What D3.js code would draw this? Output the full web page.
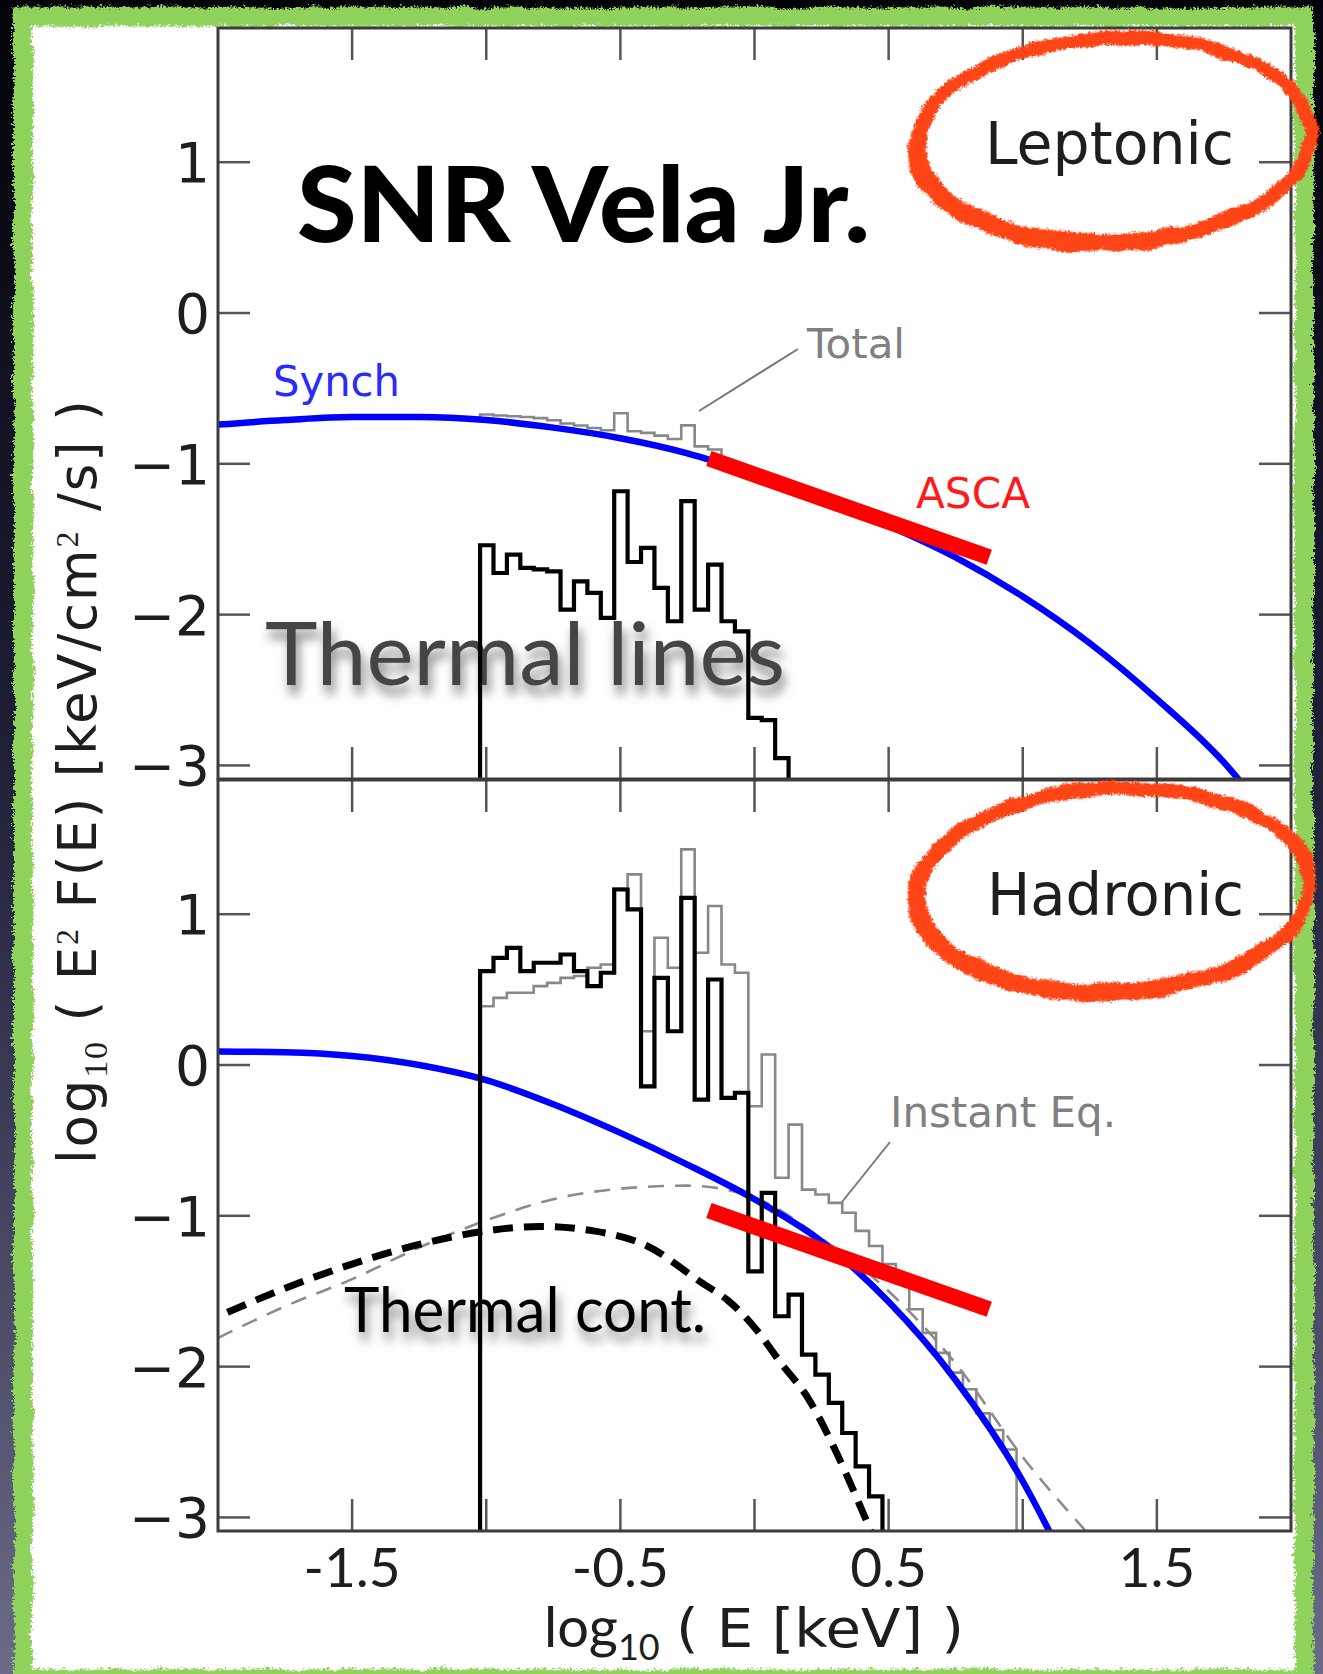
<!DOCTYPE html>
<html>
<head>
<meta charset="utf-8">
<script src="https://cdn.jsdelivr.net/npm/d3@7"></script>
<style>
  html, body { margin: 0; padding: 0; background: #000; }
  svg { display: block; }
</style>
</head>
<body>
<svg id="chart" width="1323" height="1674"></svg>
<script>
// ---------------- data ----------------
const xTickValues = [-1.5, -1.0, -0.5, 0.0, 0.5, 1.0, 1.5];
const xLabelValues = [-1.5, -0.5, 0.5, 1.5];
const xLabelTexts = ["-1.5", "-0.5", "0.5", "1.5"];
const yTickValues = [-3, -2, -1, 0, 1];
const yTickTexts = ["\u22123", "\u22122", "\u22121", "0", "1"];

// histogram binning in log10(E/keV)
const binStart = -1.023;
const binWidth = 0.05;

// Leptonic panel
const lepSynchX = [-2.0, -1.75, -1.5, -1.25, -1.0, -0.75, -0.5, -0.25, 0.0, 0.25, 0.5, 0.75, 1.0, 1.25, 1.5, 1.75, 1.85];
const lepSynchY = [-0.74, -0.71, -0.69, -0.69, -0.71, -0.76, -0.83, -0.93, -1.07, -1.23, -1.41, -1.62, -1.88, -2.19, -2.56, -2.98, -3.19];
const lepLines = [-1.540, -1.724, -1.602, -1.690, -1.700, -1.713, -1.967, -1.779, -1.856, -2.022, -1.182, -1.651,
                  -1.558, -1.823, -2.044, -1.248, -1.967, -1.668, -2.044, -2.111, -2.685, -2.700, -2.951];
const lepTotal = [-0.673, -0.680, -0.685, -0.690, -0.697, -0.711, -0.733, -0.746, -0.762, -0.777, -0.665, -0.784,
                  -0.795, -0.813, -0.835, -0.745, -0.884, -0.905];

// Hadronic panel
const hadSynchX = [-2.0, -1.75, -1.5, -1.25, -1.0, -0.75, -0.5, -0.25, 0.0, 0.25, 0.5, 0.75, 1.0, 1.15];
const hadSynchY = [0.09, 0.085, 0.06, 0.00, -0.10, -0.26, -0.45, -0.66, -0.89, -1.17, -1.57, -2.09, -2.76, -3.27];
const thermContX = [-1.965, -1.75, -1.5, -1.25, -1.0, -0.8, -0.6, -0.4, -0.2, -0.1, 0.0, 0.1, 0.2, 0.3, 0.4, 0.45];
const thermContY = [-1.64, -1.48, -1.32, -1.19, -1.10, -1.07, -1.10, -1.20, -1.44, -1.56, -1.74, -1.98, -2.21, -2.55, -2.95, -3.16];
const eqContX = [-2.0, -1.75, -1.5, -1.25, -1.0, -0.75, -0.5, -0.25, 0.0, 0.25, 0.5, 0.75, 1.0, 1.25];
const eqContY = [-1.81, -1.60, -1.42, -1.21, -1.03, -0.89, -0.82, -0.80, -0.88, -1.15, -1.50, -1.98, -2.60, -3.12];
const hadLines = [0.622, 0.711, 0.777, 0.622, 0.678, 0.678, 0.733, 0.622, 0.523, 0.612, 1.164, 1.032, -0.141, 0.578,
                  0.224, 1.109, -0.229, 0.567, -0.218, -0.184, -1.368, -0.848, -1.666, -1.522, -1.920, -2.053,
                  -2.241, -2.440, -2.661, -2.860];
const hadInstEq = [0.390, 0.445, 0.479, 0.479, 0.523, 0.545, 0.578, 0.590, 0.645, 0.667, 1.170, 1.264, 0.224, 0.844,
                   0.645, 1.430, 0.744, 1.054, 0.667, 0.612, -0.273, 0.070, -0.748, -0.395, -0.826, -0.859, -0.914,
                   -0.980, -1.100, -1.200, -1.320, -1.450, -1.620, -1.776, -1.909, -2.040, -2.150, -2.310, -2.420, -2.550];

// ASCA band (same in both panels)
const ascaX = [-0.17, 0.875];
const ascaY = [-0.965, -1.62];

// ---------------- layout ----------------
const svg = d3.select("#chart");
const W = 1323, H = 1674;
const yDomain = [-3.09, 1.89];

const x = d3.scaleLinear().domain([-2, 2]).range([218, 1291]);
const panels = [
  { key: "lep", y: d3.scaleLinear().domain(yDomain).range([779, 28]) },
  { key: "had", y: d3.scaleLinear().domain(yDomain).range([1531, 780]) }
];

const defs = svg.append("defs");

const bg = defs.append("linearGradient").attr("id", "bgGrad")
  .attr("x1", 0).attr("y1", 0).attr("x2", 0).attr("y2", 1);
bg.append("stop").attr("offset", "0").attr("stop-color", "#020208");
bg.append("stop").attr("offset", "0.45").attr("stop-color", "#1f1f38");
bg.append("stop").attr("offset", "1").attr("stop-color", "#6b6a87");

// hand-drawn stroke: slow wobble plus a fine ragged edge
function sketchFilter(id, freq, scale, fineFreq, fineScale, seed) {
  const f = defs.append("filter").attr("id", id)
    .attr("x", "-5%").attr("y", "-5%").attr("width", "110%").attr("height", "110%");
  f.append("feTurbulence").attr("type", "fractalNoise").attr("baseFrequency", freq)
    .attr("numOctaves", 2).attr("seed", seed).attr("result", "noise");
  f.append("feDisplacementMap").attr("in", "SourceGraphic").attr("in2", "noise")
    .attr("scale", scale).attr("xChannelSelector", "R").attr("yChannelSelector", "G").attr("result", "wob");
  f.append("feTurbulence").attr("type", "turbulence").attr("baseFrequency", fineFreq)
    .attr("numOctaves", 2).attr("seed", seed + 5).attr("result", "fine");
  f.append("feDisplacementMap").attr("in", "wob").attr("in2", "fine")
    .attr("scale", fineScale).attr("xChannelSelector", "R").attr("yChannelSelector", "G");
}
sketchFilter("sketchRed", "0.03", 8, "0.35", 6, 4);
sketchFilter("sketchGreen", "0.04", 6, "0.3", 7, 11);

// soft drop shadow under the big annotations
const shadow = defs.append("filter").attr("id", "shadow")
  .attr("x", "-10%").attr("y", "-20%").attr("width", "120%").attr("height", "160%");
shadow.append("feDropShadow").attr("dx", 3).attr("dy", 9).attr("stdDeviation", 5.5)
  .attr("flood-color", "#000").attr("flood-opacity", 0.5);

panels.forEach(p => {
  defs.append("clipPath").attr("id", "clip-" + p.key)
    .append("rect")
    .attr("x", x.range()[0]).attr("y", p.y.range()[1])
    .attr("width", x.range()[1] - x.range()[0])
    .attr("height", p.y.range()[0] - p.y.range()[1]);
});

// ---------------- background & frame ----------------
svg.append("rect").attr("width", W).attr("height", H).attr("fill", "url(#bgGrad)");
svg.append("rect").attr("x", 21).attr("y", 15).attr("width", 1282).attr("height", 1670).attr("fill", "#ffffff");
svg.append("rect").attr("x", 21.5).attr("y", 15).attr("width", 1281).attr("height", 1662)
  .attr("fill", "none").attr("stroke", "#8fd35b").attr("stroke-width", 19)
  .attr("filter", "url(#sketchGreen)");

// ---------------- big annotations (under the curves) ----------------
const gAnn = svg.append("g");
gAnn.append("text").attr("x", 297).attr("y", 242)
  .attr("font-family", "Lato, 'Open Sans', sans-serif").attr("font-weight", 900)
  .attr("font-size", 104).attr("fill", "#000")
  .attr("textLength", 573).attr("lengthAdjust", "spacingAndGlyphs")
  .text("SNR Vela Jr.");

gAnn.append("text").attr("x", 265).attr("y", 685)
  .attr("font-family", "Lato, sans-serif").attr("font-weight", 400)
  .attr("font-size", 88).attr("fill", "#444")
  .attr("textLength", 520).attr("lengthAdjust", "spacingAndGlyphs")
  .attr("filter", "url(#shadow)")
  .text("Thermal lines");

gAnn.append("text").attr("x", 344).attr("y", 1332)
  .attr("font-family", "Lato, sans-serif").attr("font-weight", 400)
  .attr("font-size", 61).attr("fill", "#000")
  .attr("textLength", 362).attr("lengthAdjust", "spacingAndGlyphs")
  .attr("filter", "url(#shadow)")
  .text("Thermal cont.");

// ---------------- plotting helpers ----------------
const curve = (xs, ys, yS) => d3.line()
  .x(d => x(d[0])).y(d => yS(d[1]))
  .curve(d3.curveMonotoneX)(xs.map((v, i) => [v, ys[i]]));

function stepPath(vals, yS, startV, endV) {
  let p = `M${x(binStart)},${yS(startV)}`;
  vals.forEach((v, i) => {
    p += `V${yS(v)}H${x(binStart + (i + 1) * binWidth)}`;
  });
  p += `V${yS(endV)}`;
  return p;
}

const lepSynchAt = d3.scaleLinear().domain(lepSynchX).range(lepSynchY);

panels.forEach(p => {
  const g = svg.append("g").attr("clip-path", `url(#clip-${p.key})`);
  const y = p.y;
  const floor = yDomain[0];

  if (p.key === "lep") {
    g.append("path").attr("d",
        stepPath(lepTotal, y, lepSynchAt(binStart), lepSynchAt(binStart + lepTotal.length * binWidth)))
      .attr("fill", "none").attr("stroke", "#888").attr("stroke-width", 2.6);
    g.append("path").attr("d", curve(lepSynchX, lepSynchY, y))
      .attr("fill", "none").attr("stroke", "#0000ff").attr("stroke-width", 6.5);
    g.append("path").attr("d", stepPath(lepLines, y, floor, floor))
      .attr("fill", "none").attr("stroke", "#000").attr("stroke-width", 4.2);
  } else {
    g.append("path").attr("d", curve(eqContX, eqContY, y))
      .attr("fill", "none").attr("stroke", "#8c8c8c").attr("stroke-width", 2.6)
      .attr("stroke-dasharray", "16,11");
    g.append("path").attr("d", curve(thermContX, thermContY, y))
      .attr("fill", "none").attr("stroke", "#000").attr("stroke-width", 7)
      .attr("stroke-dasharray", "20,11");
    g.append("path").attr("d", stepPath(hadInstEq, y, floor, floor))
      .attr("fill", "none").attr("stroke", "#888").attr("stroke-width", 2.6);
    g.append("path").attr("d", curve(hadSynchX, hadSynchY, y))
      .attr("fill", "none").attr("stroke", "#0000ff").attr("stroke-width", 6.5);
    g.append("path").attr("d", stepPath(hadLines, y, floor, floor))
      .attr("fill", "none").attr("stroke", "#000").attr("stroke-width", 4.2);
  }
  // ASCA band
  g.append("line")
    .attr("x1", x(ascaX[0])).attr("y1", y(ascaY[0]))
    .attr("x2", x(ascaX[1])).attr("y2", y(ascaY[1]))
    .attr("stroke", "#ff0000").attr("stroke-width", 16);
});

// ---------------- axes ----------------
const axisColor = "#3c3c3c", tickColor = "#555", tickLen = 32;
const gAx = svg.append("g");
panels.forEach(p => {
  const y = p.y;
  const [x0, x1] = x.range();
  const [yb, yt] = y.range();
  xTickValues.forEach(v => {
    gAx.append("line").attr("x1", x(v)).attr("x2", x(v)).attr("y1", yt).attr("y2", yt + tickLen)
      .attr("stroke", tickColor).attr("stroke-width", 2.5);
    gAx.append("line").attr("x1", x(v)).attr("x2", x(v)).attr("y1", yb).attr("y2", yb - tickLen)
      .attr("stroke", tickColor).attr("stroke-width", 2.5);
  });
  yTickValues.forEach(v => {
    gAx.append("line").attr("x1", x0).attr("x2", x0 + tickLen).attr("y1", y(v)).attr("y2", y(v))
      .attr("stroke", tickColor).attr("stroke-width", 2.5);
    gAx.append("line").attr("x1", x1).attr("x2", x1 - tickLen).attr("y1", y(v)).attr("y2", y(v))
      .attr("stroke", tickColor).attr("stroke-width", 2.5);
  });
  gAx.append("rect").attr("x", x0).attr("y", yt).attr("width", x1 - x0).attr("height", yb - yt)
    .attr("fill", "none").attr("stroke", axisColor).attr("stroke-width", 3);
  yTickValues.forEach((v, i) => {
    gAx.append("text").attr("x", 210).attr("y", y(v) + 20)
      .attr("text-anchor", "end")
      .attr("font-family", "'DejaVu Sans', sans-serif").attr("font-size", 55)
      .attr("fill", "#1e1e1e").text(yTickTexts[i]);
  });
});

// x tick labels
xLabelValues.forEach((v, i) => {
  gAx.append("text").attr("x", x(v)).attr("y", 1587)
    .attr("text-anchor", "middle")
    .attr("font-family", "Lato, sans-serif").attr("font-size", 55)
    .attr("fill", "#1e1e1e").text(xLabelTexts[i]);
});

// x axis title
const xt = gAx.append("text").attr("x", 544).attr("y", 1647)
  .attr("fill", "#1e1e1e").attr("font-family", "Lato, sans-serif");
xt.append("tspan").attr("font-size", 56).text("log");
xt.append("tspan").attr("font-size", 36).attr("dy", 13).text("10");
gAx.append("text").attr("x", 676).attr("y", 1647)
  .attr("fill", "#1e1e1e").attr("font-family", "'DejaVu Sans', sans-serif").attr("font-size", 53)
  .attr("textLength", 288).attr("lengthAdjust", "spacingAndGlyphs")
  .text("( E [keV] )");

// y axis title
const yt = gAx.append("text")
  .attr("transform", "translate(96,782) rotate(-90)")
  .attr("text-anchor", "middle")
  .attr("textLength", 764).attr("lengthAdjust", "spacing")
  .attr("fill", "#1e1e1e").attr("font-family", "'DejaVu Sans', sans-serif").attr("font-size", 53);
yt.append("tspan").text("log");
yt.append("tspan").attr("font-family", "'Liberation Serif', serif").attr("font-size", 34).attr("dy", 11).text("10");
yt.append("tspan").attr("dy", -11).text(" ( E");
yt.append("tspan").attr("font-family", "'Liberation Serif', serif").attr("font-size", 32).attr("dy", -18).text("2");
yt.append("tspan").attr("dy", 18).text(" F(E) [keV/cm");
yt.append("tspan").attr("font-family", "'Liberation Serif', serif").attr("font-size", 32).attr("dy", -18).text("2");
yt.append("tspan").attr("dy", 18).text(" /s] )");

// ---------------- small labels ----------------
const gLab = svg.append("g").attr("font-family", "'DejaVu Sans', sans-serif");
gLab.append("text").attr("x", 273).attr("y", 396).attr("font-size", 42).attr("fill", "#2a2aff")
  .attr("textLength", 127).attr("lengthAdjust", "spacingAndGlyphs").text("Synch");
gLab.append("text").attr("x", 807).attr("y", 358).attr("font-size", 40).attr("fill", "#808080")
  .attr("textLength", 98).attr("lengthAdjust", "spacingAndGlyphs").text("Total");
gLab.append("line").attr("x1", 699).attr("y1", 411).attr("x2", 798).attr("y2", 349)
  .attr("stroke", "#777").attr("stroke-width", 2);
gLab.append("text").attr("x", 916).attr("y", 508).attr("font-size", 42).attr("fill", "#ff1a1a")
  .attr("textLength", 114).attr("lengthAdjust", "spacingAndGlyphs").text("ASCA");
gLab.append("text").attr("x", 890).attr("y", 1127).attr("font-size", 42).attr("fill", "#808080")
  .attr("textLength", 226).attr("lengthAdjust", "spacingAndGlyphs").text("Instant Eq.");
gLab.append("line").attr("x1", 842).attr("y1", 1202).attr("x2", 890).attr("y2", 1142)
  .attr("stroke", "#777").attr("stroke-width", 2);

gLab.append("text").attr("x", 985).attr("y", 164).attr("font-size", 58).attr("fill", "#1e1e1e")
  .attr("textLength", 249).attr("lengthAdjust", "spacingAndGlyphs").text("Leptonic");
gLab.append("text").attr("x", 987).attr("y", 915).attr("font-size", 58).attr("fill", "#1e1e1e")
  .attr("textLength", 257).attr("lengthAdjust", "spacingAndGlyphs").text("Hadronic");

// ---------------- hand-drawn circles ----------------
const circles = [{ cx: 1111, cy: 140 }, { cx: 1111, cy: 890 }];
circles.forEach(c => {
  const gc = svg.append("g").attr("filter", "url(#sketchRed)")
    .attr("transform", `rotate(-3 ${c.cx} ${c.cy})`);
  gc.append("ellipse").attr("cx", c.cx).attr("cy", c.cy).attr("rx", 198).attr("ry", 103)
    .attr("fill", "none").attr("stroke", "#ff4418").attr("stroke-width", 14);
  gc.append("ellipse").attr("cx", c.cx + 4).attr("cy", c.cy - 3).attr("rx", 195).attr("ry", 100)
    .attr("fill", "none").attr("stroke", "#ff4418").attr("stroke-width", 8);
});
</script>
</body>
</html>
